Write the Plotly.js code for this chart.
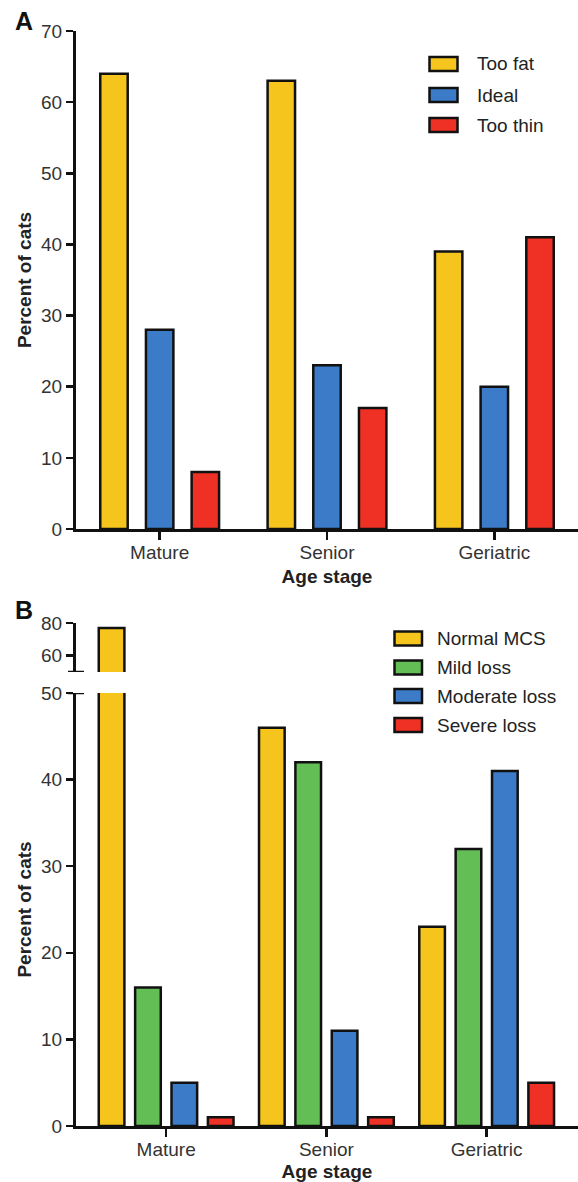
<!DOCTYPE html>
<html><head><meta charset="utf-8">
<script src="https://cdn.plot.ly/plotly-3.0.1.min.js"></script>
<style>html,body{margin:0;padding:0;background:#fff}</style>
</head><body>
<div id="chart" style="width:578px;height:1182px"></div>
<script>
// ---- data ----
const ageStages = ['Mature', 'Senior', 'Geriatric'];
const seriesA = ['Too fat', 'Ideal', 'Too thin'];
const tooFat = [64, 63, 39];
const ideal = [28, 23, 20];
const tooThin = [8, 17, 41];
const seriesB = ['Normal MCS', 'Mild loss', 'Moderate loss', 'Severe loss'];
const normalMCS = [77, 46, 23];
const mildLoss = [16, 42, 32];
const moderateLoss = [5, 11, 41];
const severeLoss = [1, 1, 5];
const ticksA = [0, 10, 20, 30, 40, 50, 60, 70];
const ticksBLower = [0, 10, 20, 30, 40, 50];
const ticksBUpper = [60, 80];

// ---- style ----
const W = 578, H = 1182;
const px = x => x / W, py = y => 1 - y / H;
const FONT = 'Liberation Sans, Arial, Helvetica, sans-serif';
const colorsA = ['#F5C51D', '#3B7BC8', '#EE3124'];
const colorsB = ['#F5C51D', '#63BE55', '#3B7BC8', '#EE3124'];
const dataA = [tooFat, ideal, tooThin];
const dataB = [normalMCS, mildLoss, moderateLoss, severeLoss];
const LINE = '#111';
const outline = {color: '#111', width: 2.5};

const traces = [];
const wA = 0.164, pA = 0.273;
dataA.forEach((vals, i) => {
  traces.push({type: 'bar', x: ageStages, y: vals, name: seriesA[i], xaxis: 'x', yaxis: 'y',
    width: wA, offset: (i - 1) * pA - wA / 2,
    marker: {color: colorsA[i], line: outline}});
});
const wB = 0.16, pB = 0.227;
dataB.forEach((vals, i) => {
  traces.push({type: 'bar', x: ageStages, y: vals, name: seriesB[i], xaxis: 'x2', yaxis: 'y2',
    width: wB, offset: (i - 1.5) * pB - wB / 2,
    marker: {color: colorsB[i], line: outline}});
  traces.push({type: 'bar', x: ageStages, y: vals, name: seriesB[i], xaxis: 'x2', yaxis: 'y3',
    width: wB, offset: (i - 1.5) * pB - wB / 2, showlegend: false,
    marker: {color: colorsB[i], line: outline}});
});

const tickFont = {family: FONT, size: 19, color: '#333'};
const titleFont = {family: FONT, size: 19, color: '#222', weight: 'bold'};
const baseAxis = {showline: true, linewidth: 3, linecolor: LINE, ticks: 'outside', tickwidth: 2.5,
  tickcolor: LINE, showgrid: false, zeroline: false, tickfont: tickFont, fixedrange: true};

const shapes = [], annotations = [];
function legend(names, colors, x0, x1, textX, centers) {
  names.forEach((n, i) => {
    const c = centers[i];
    shapes.push({type: 'rect', xref: 'paper', yref: 'paper', x0: px(x0), x1: px(x1),
      y0: py(c + 7), y1: py(c - 7), fillcolor: colors[i], line: {color: '#111', width: 2.5}});
    annotations.push({xref: 'paper', yref: 'paper', x: px(textX), y: py(c), xanchor: 'left', yanchor: 'middle',
      text: n, showarrow: false, font: {family: FONT, size: 19, color: '#222'}});
  });
}
legend(seriesA, colorsA, 429.5, 457.5, 475, [64, 95, 125]);
legend(seriesB, colorsB, 394.5, 422, 435, [638.5, 667.5, 696, 725]);

// broken axis caps
shapes.push({type: 'line', xref: 'paper', yref: 'y3', x0: px(68), x1: px(84), y0: 50, y1: 50, line: {color: LINE, width: 2.5}});
shapes.push({type: 'line', xref: 'paper', yref: 'y2', x0: px(68), x1: px(84), y0: 50, y1: 50, line: {color: LINE, width: 2.5}});

annotations.push({xref: 'paper', yref: 'paper', x: px(24), y: py(21), xanchor: 'center', yanchor: 'middle',
  text: 'A', showarrow: false, font: {family: FONT, size: 25, color: '#111', weight: 'bold'}});
annotations.push({xref: 'paper', yref: 'paper', x: px(24), y: py(610), xanchor: 'center', yanchor: 'middle',
  text: 'B', showarrow: false, font: {family: FONT, size: 25, color: '#111', weight: 'bold'}});

const layout = {
  width: W, height: H, margin: {l: 0, r: 0, t: 0, b: 0},
  paper_bgcolor: '#fff', plot_bgcolor: '#fff', showlegend: false,
  xaxis: Object.assign({}, baseAxis, {domain: [px(76), 1], range: [-0.5, 2.5], anchor: 'y', ticklen: 8,
    ticklabelstandoff: -4, title: {text: 'Age stage', font: titleFont, standoff: 8}}),
  yaxis: Object.assign({}, baseAxis, {domain: [py(529), py(31)], range: [0, 70], anchor: 'x', ticklen: 7,
    tickmode: 'array', tickvals: ticksA, title: {text: 'Percent of cats', font: titleFont, standoff: 5}}),
  xaxis2: Object.assign({}, baseAxis, {domain: [px(76), 1], range: [-0.5625, 2.57], anchor: 'y2', ticklen: 8,
    ticklabelstandoff: -4, title: {text: 'Age stage', font: titleFont, standoff: 9}}),
  yaxis2: Object.assign({}, baseAxis, {domain: [py(1126), py(693)], range: [0, 50], anchor: 'x2', ticklen: 7,
    tickmode: 'array', tickvals: ticksBLower, title: {text: 'Percent of cats', font: titleFont, standoff: 5}}),
  yaxis3: Object.assign({}, baseAxis, {domain: [py(672), py(623)], range: [50, 80], anchor: 'x2', ticklen: 7,
    tickmode: 'array', tickvals: ticksBUpper}),
  shapes: shapes, annotations: annotations
};

Plotly.newPlot('chart', traces, layout, {displayModeBar: false, staticPlot: true});
</script>
</body></html>
